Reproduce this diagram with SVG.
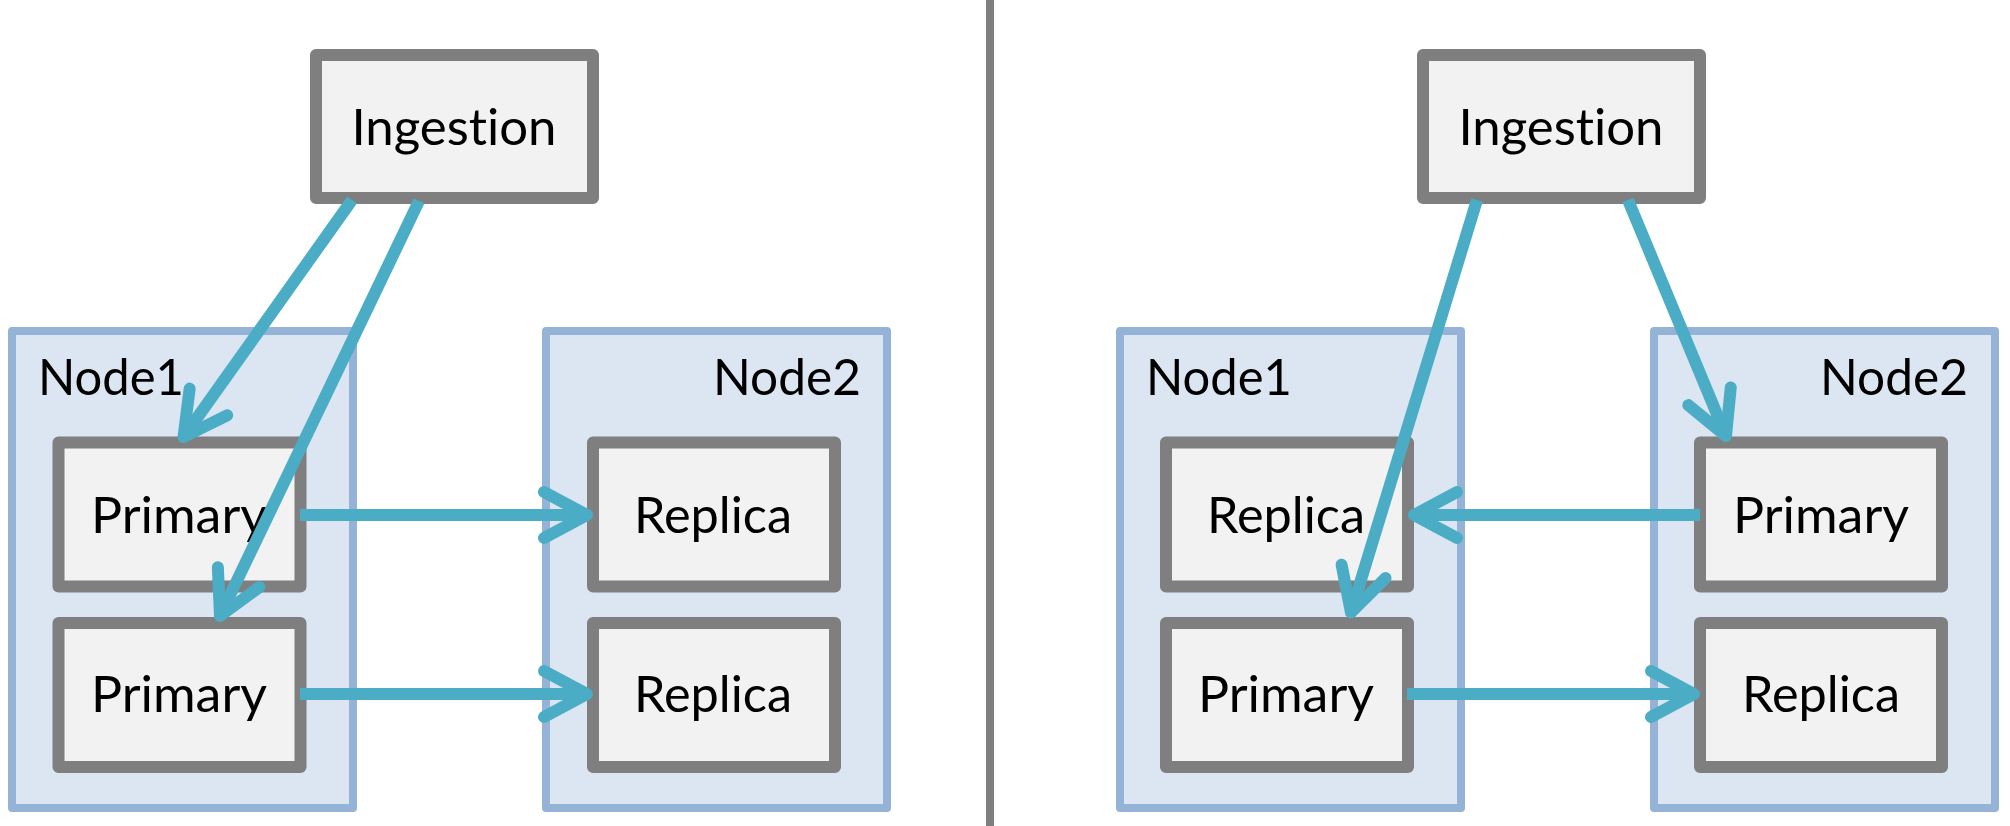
<svg xmlns="http://www.w3.org/2000/svg" width="2010" height="826" viewBox="0 0 2010 826">
<style>
.bg{fill:#ffffff}
.container{fill:#dce6f2;stroke:#95b3d7;stroke-width:8;stroke-linejoin:round}
.box{fill:#f2f2f2;stroke:#7f7f7f;stroke-width:12;stroke-linejoin:round}
.lbl{font-family:Lato,"Open Sans","Liberation Sans",sans-serif;font-size:50px;fill:#000000;font-variant-ligatures:none;font-feature-settings:"liga" 0,"clig" 0}
.mid{text-anchor:middle}
.end{text-anchor:end}
.conn{fill:none;stroke:#4bacc6;stroke-width:12;stroke-linecap:butt}
.divider{stroke:#7f7f7f;stroke-width:8}
</style>
<defs>
<marker id="chev" markerUnits="userSpaceOnUse" viewBox="-60 -40 80 80" refX="0" refY="0" markerWidth="80" markerHeight="80" orient="auto" overflow="visible">
<path d="M -43 -23 L 0 0 L -43 23" fill="none" stroke="#4bacc6" stroke-width="12" stroke-linecap="round" stroke-linejoin="round"/>
</marker>
</defs>
<rect class="bg" x="0" y="0" width="2010" height="826"/>
<line id="divider" class="divider" x1="990" y1="0" x2="990" y2="826"/>

<!-- Left half -->
<g id="left-ingestion">
<rect class="box" x="316" y="55" width="277" height="143"/>
<text class="lbl mid" x="454" y="145" textLength="205" lengthAdjust="spacingAndGlyphs">Ingestion</text>
</g>
<g id="left-node1">
<rect class="container" x="12" y="331" width="341" height="477"/>
<text class="lbl" x="38" y="395" textLength="146" lengthAdjust="spacingAndGlyphs">Node1</text>
</g>
<g id="left-node2">
<rect class="container" x="546" y="331" width="341" height="477"/>
<text class="lbl end" x="861" y="395" textLength="148" lengthAdjust="spacingAndGlyphs">Node2</text>
</g>
<g id="left-primary1">
<rect class="box" x="58.5" y="442.5" width="242" height="144"/>
<text class="lbl mid" x="179" y="533" textLength="176" lengthAdjust="spacingAndGlyphs">Primary</text>
</g>
<g id="left-primary2">
<rect class="box" x="58.5" y="623" width="242" height="144"/>
<text class="lbl mid" x="179" y="712" textLength="176" lengthAdjust="spacingAndGlyphs">Primary</text>
</g>
<g id="left-replica1">
<rect class="box" x="593" y="442.5" width="242" height="144"/>
<text class="lbl mid" x="713" y="533" textLength="158" lengthAdjust="spacingAndGlyphs">Replica</text>
</g>
<g id="left-replica2">
<rect class="box" x="593" y="623" width="242" height="144"/>
<text class="lbl mid" x="713" y="712" textLength="158" lengthAdjust="spacingAndGlyphs">Replica</text>
</g>

<!-- Right half -->
<g id="right-ingestion">
<rect class="box" x="1423" y="55" width="277" height="143"/>
<text class="lbl mid" x="1561" y="145" textLength="205" lengthAdjust="spacingAndGlyphs">Ingestion</text>
</g>
<g id="right-node1">
<rect class="container" x="1120" y="331" width="341" height="477"/>
<text class="lbl" x="1146" y="395" textLength="146" lengthAdjust="spacingAndGlyphs">Node1</text>
</g>
<g id="right-node2">
<rect class="container" x="1654" y="331" width="341" height="477"/>
<text class="lbl end" x="1968" y="395" textLength="148" lengthAdjust="spacingAndGlyphs">Node2</text>
</g>
<g id="right-replica1">
<rect class="box" x="1166" y="442.5" width="242" height="144"/>
<text class="lbl mid" x="1286" y="533" textLength="158" lengthAdjust="spacingAndGlyphs">Replica</text>
</g>
<g id="right-primary2">
<rect class="box" x="1166" y="623" width="242" height="144"/>
<text class="lbl mid" x="1286" y="712" textLength="176" lengthAdjust="spacingAndGlyphs">Primary</text>
</g>
<g id="right-primary1">
<rect class="box" x="1700" y="442.5" width="242" height="144"/>
<text class="lbl mid" x="1821" y="533" textLength="176" lengthAdjust="spacingAndGlyphs">Primary</text>
</g>
<g id="right-replica2">
<rect class="box" x="1700" y="623" width="242" height="144"/>
<text class="lbl mid" x="1821" y="712" textLength="158" lengthAdjust="spacingAndGlyphs">Replica</text>
</g>

<g id="connectors">
<line class="conn" x1="352" y1="200" x2="183.5" y2="437" marker-end="url(#chev)"/>
<line class="conn" x1="419" y1="201" x2="220" y2="616" marker-end="url(#chev)"/>
<line class="conn" x1="300" y1="515" x2="587" y2="515" marker-end="url(#chev)"/>
<line class="conn" x1="300" y1="694" x2="587" y2="694" marker-end="url(#chev)"/>
<line class="conn" x1="1477" y1="200" x2="1351" y2="612.5" marker-end="url(#chev)"/>
<line class="conn" x1="1628" y1="200" x2="1726" y2="436" marker-end="url(#chev)"/>
<line class="conn" x1="1700" y1="515" x2="1414" y2="515" marker-end="url(#chev)"/>
<line class="conn" x1="1407" y1="694" x2="1694" y2="694" marker-end="url(#chev)"/>
</g>
</svg>
